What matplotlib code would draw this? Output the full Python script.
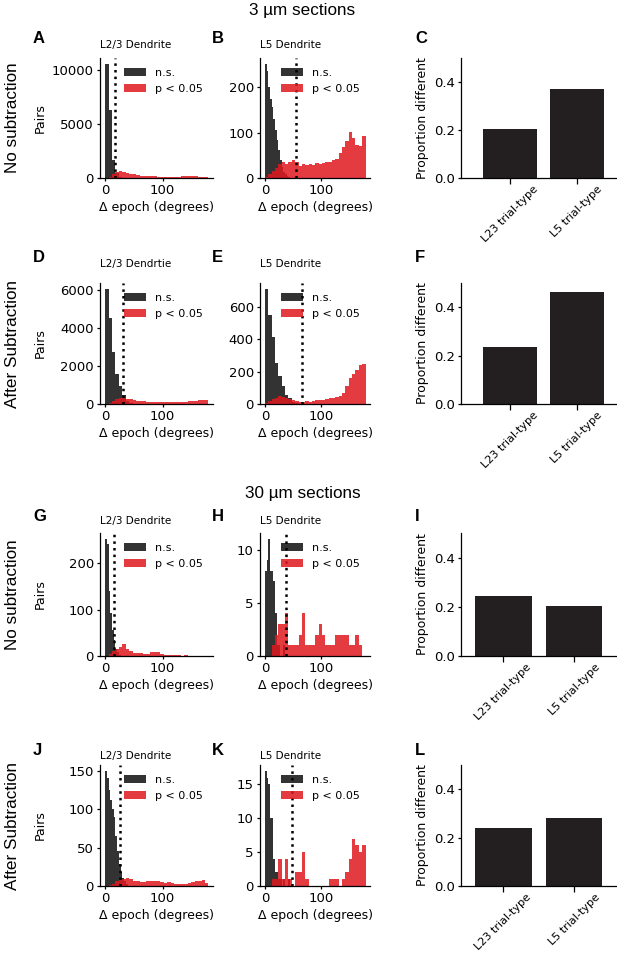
import numpy as np
import matplotlib
matplotlib.use("Agg")
import matplotlib.pyplot as plt

plt.rcParams["font.family"] = ["DejaVu Sans"]

W, H = 617, 956

# ---------------- data ----------------
row_headers = ["3 µm sections", "30 µm sections"]
row_labels = ["No subtraction", "After Subtraction", "No subtraction", "After Subtraction"]
legend_labels = ["n.s.", "p < 0.05"]
xlabel = "Δ epoch (degrees)"
bar_categories = ["L23 trial-type", "L5 trial-type"]
xticks_hist = [0, 100]
yticks_bar = [0.0, 0.2, 0.4]

# A: L2/3 dendrite, 3 um, no subtraction
a_ns_w, a_ns = 6, [10600, 6300, 1700, 450, 80]
a_sig_w, a_sig = 6, [0, 100, 400, 600, 620, 550, 470, 400, 330, 270, 230, 200, 170, 150, 140,
                     130, 120, 110, 110, 110, 120, 130, 150, 170, 180, 170, 150, 130, 110, 100]
a_thr = 17
a_yticks = [0, 5000, 10000]
# B: L5 dendrite, 3 um, no subtraction
b_ns_w, b_ns = 3, [252, 237, 200, 175, 156, 131, 105, 83, 61, 39, 24, 13, 8, 4, 2]
b_sig_w, b_sig = 6, [2, 8, 15, 22, 30, 35, 30, 35, 40, 36, 26, 30, 28, 30, 28,
                     32, 30, 33, 36, 35, 40, 41, 55, 68, 82, 101, 88, 72, 70, 92]
b_thr = 56
b_yticks = [0, 100, 200]
# C
c_vals = [0.206, 0.371]
# D: L2/3 dendrite, 3 um, after subtraction
d_ns_w, d_ns = 6, [6050, 4490, 2710, 1600, 930, 480, 150, 40]
d_sig_w, d_sig = 6, [0, 60, 150, 240, 290, 300, 280, 240, 200, 170, 150, 140, 130, 120, 110,
                     100, 100, 95, 95, 100, 100, 110, 120, 130, 150, 160, 180, 200, 210, 220]
d_thr = 30.5
d_yticks = [0, 2000, 4000, 6000]
# E: L5 dendrite, 3 um, after subtraction
e_ns_w, e_ns = 6, [710, 547, 412, 255, 171, 109, 56, 35, 12, 5]
e_sig_w, e_sig = 6, [5, 20, 30, 40, 48, 45, 38, 30, 25, 20, 15, 15, 18, 15, 18,
                     22, 25, 22, 30, 35, 40, 45, 50, 70, 110, 160, 185, 210, 240, 245]
e_thr = 65.5
e_yticks = [0, 200, 400, 600]
# F
f_vals = [0.235, 0.462]
# G: L2/3 dendrite, 30 um, no subtraction
g_ns_w, g_ns = 3, [253, 242, 140, 93, 56, 34, 16, 9, 3]
g_sig_w, g_sig = 6, [0, 4, 10, 16, 20, 25, 15, 10, 7, 6, 6, 5, 5, 8, 9,
                     8, 4, 3, 3, 2, 3, 2, 1, 2, 1, 1, 1, 1, 1, 1]
g_thr = 16
g_yticks = [0, 100, 200]
# H: L5 dendrite, 30 um, no subtraction
h_ns_w, h_ns = 3, [8, 9, 11, 8, 8, 7, 4, 1, 1, 0, 0, 1]
h_sig_w, h_sig = 6, [0, 0, 1, 2, 3, 3, 4, 1, 1, 1, 2, 4, 1, 1, 1,
                     2, 3, 2, 1, 1, 1, 2, 2, 2, 2, 1, 1, 2, 1, 0]
h_thr = 37
h_yticks = [0, 5, 10]
# I
i_vals = [0.244, 0.203]
# J: L2/3 dendrite, 30 um, after subtraction
j_ns_w, j_ns = 3, [150, 140, 125, 112, 100, 90, 65, 45, 28, 18, 10, 6, 3]
j_sig_w, j_sig = 6, [0, 1, 3, 6, 8, 9, 10, 9, 7, 6, 5, 5, 6, 6, 7,
                     6, 5, 4, 5, 4, 2, 2, 2, 3, 4, 5, 6, 7, 8, 4]
j_thr = 26.5
j_yticks = [0, 50, 100, 150]
# K: L5 dendrite, 30 um, after subtraction
k_ns_w, k_ns = 3, [17, 16, 15, 10, 10, 4, 2, 2, 1, 1, 0, 1, 0, 0, 1]
k_sig_w, k_sig = 6, [0, 0, 1, 1, 4, 1, 4, 1, 0, 2, 2, 5, 1, 0, 0,
                     0, 0, 0, 0, 1, 1, 1, 0, 1, 2, 4, 7, 6, 5, 6]
k_thr = 47.7
k_yticks = [0, 5, 10, 15]
# L
l_vals = [0.238, 0.280]

hist_titles = [["L2/3 Dendrite", "L5 Dendrite"], ["L2/3 Dendrtie", "L5 Dendrite"],
               ["L2/3 Dendrite", "L5 Dendrite"], ["L2/3 Dendrite", "L5 Dendrite"]]
letters = [["A", "B", "C"], ["D", "E", "F"], ["G", "H", "I"], ["J", "K", "L"]]

# ---------------- style ----------------
NS_COLOR, NS_ALPHA = "black", 0.8
SIG_COLOR, SIG_ALPHA = "#e0191f", 0.85
BAR_COLOR = "#231f20"
TICK_FS, LABEL_FS, TITLE_FS, LEG_FS = 9.5, 9, 7.5, 8
SANS = ["Liberation Sans", "DejaVu Sans"]

fig = plt.figure(figsize=(W / 100, H / 100), dpi=100)


def add_ax(l, t, r, b):
    return fig.add_axes([l / W, 1 - b / H, (r - l) / W, (b - t) / H])


def style(ax):
    for s in ["top", "right"]:
        ax.spines[s].set_visible(False)
    for s in ["left", "bottom"]:
        ax.spines[s].set_linewidth(0.9)
    ax.tick_params(labelsize=TICK_FS, length=2.5, width=0.9, pad=2)


def hist_panel(ax, ns_w, ns, sig_w, sig, thr, yticks):
    ns_edges = np.arange(len(ns) + 1) * ns_w
    sig_edges = np.arange(len(sig) + 1) * sig_w
    ax.hist(ns_edges[:-1] + ns_w / 2, bins=ns_edges, weights=ns,
            color=NS_COLOR, alpha=NS_ALPHA, label=legend_labels[0])
    ax.hist(sig_edges[:-1] + sig_w / 2, bins=sig_edges, weights=sig,
            color=SIG_COLOR, alpha=SIG_ALPHA, label=legend_labels[1])
    ax.axvline(thr, color="black", linestyle=":", linewidth=1.8)
    ax.set_xlim(-9, 188)
    ax.set_xticks(xticks_hist)
    ax.set_yticks(yticks)
    ax.set_xlabel(xlabel, fontsize=LABEL_FS, labelpad=3)
    ax.legend(loc="upper right", frameon=False, fontsize=LEG_FS)
    style(ax)


def bar_panel(ax, vals, xlim):
    x = np.arange(len(bar_categories))
    ax.bar(x, vals, width=0.8, color=BAR_COLOR)
    ax.set_xlim(*xlim)
    ax.set_ylim(0, 0.5)
    ax.set_yticks(yticks_bar)
    ax.set_xticks(x)
    ax.set_xticklabels(bar_categories, rotation=45)
    style(ax)
    ax.tick_params(axis="x", length=4, pad=0.5, labelsize=8)


rows = [(58, 178), (283, 404), (533, 656), (765, 886)]
col_hist = [(100, 213), (260, 370)]
col_bar = (461, 617)

hist_data = [
    [(a_ns_w, a_ns, a_sig_w, a_sig, a_thr, a_yticks), (b_ns_w, b_ns, b_sig_w, b_sig, b_thr, b_yticks)],
    [(d_ns_w, d_ns, d_sig_w, d_sig, d_thr, d_yticks), (e_ns_w, e_ns, e_sig_w, e_sig, e_thr, e_yticks)],
    [(g_ns_w, g_ns, g_sig_w, g_sig, g_thr, g_yticks), (h_ns_w, h_ns, h_sig_w, h_sig, h_thr, h_yticks)],
    [(j_ns_w, j_ns, j_sig_w, j_sig, j_thr, j_yticks), (k_ns_w, k_ns, k_sig_w, k_sig, k_thr, k_yticks)],
]
bar_data = [c_vals, f_vals, i_vals, l_vals]
bar_xlims = [(-0.73, 1.6), (-0.73, 1.6), (-0.6, 1.61), (-0.6, 1.61)]
title_base = [48, 267, 524, 759]
letter_base = [43, 262, 521, 755]
rowlabel_y = [118, 344, 595, 826]

for r, (top, bot) in enumerate(rows):
    for c in range(2):
        l, rr = col_hist[c]
        ax = add_ax(l, top, rr, bot)
        hist_panel(ax, *hist_data[r][c])
        fig.text(l / W, 1 - title_base[r] / H, hist_titles[r][c], fontsize=TITLE_FS,
                 ha="left", va="baseline")
    axb = add_ax(col_bar[0], top, col_bar[1], bot)
    bar_panel(axb, bar_data[r], bar_xlims[r])
    fig.text(40 / W, 1 - (top + bot) / 2 / H, "Pairs", rotation=90, fontsize=LABEL_FS,
             ha="center", va="center")
    fig.text(422.5 / W, 1 - (top + bot) / 2 / H, "Proportion different", rotation=90,
             fontsize=LABEL_FS, ha="center", va="center")
    fig.text(12.5 / W, 1 - rowlabel_y[r] / H, row_labels[r], rotation=90, fontsize=12.3,
             family=SANS, ha="center", va="center")
    for c, lx in enumerate([33, 212, 415]):
        fig.text(lx / W, 1 - letter_base[r] / H, letters[r][c], fontsize=12,
                 fontweight="bold", family=SANS, ha="left", va="baseline")

fig.text(302 / W, 1 - 15 / H, row_headers[0], fontsize=12.3, family=SANS, ha="center", va="baseline")
fig.text(303 / W, 1 - 498 / H, row_headers[1], fontsize=12.3, family=SANS, ha="center", va="baseline")

fig.savefig("out.png", dpi=100)
